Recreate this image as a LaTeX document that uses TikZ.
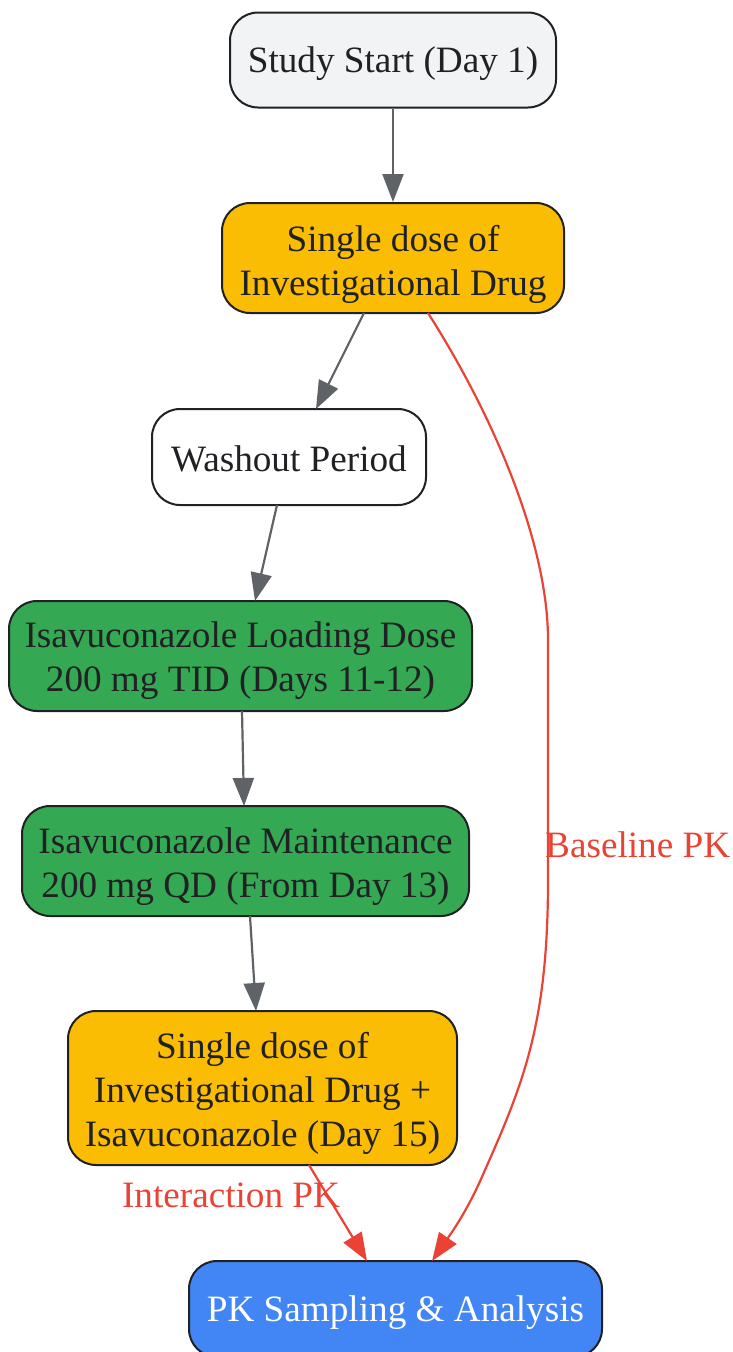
\documentclass[tikz,border=0pt]{standalone}
\usepackage{fontspec}
\setmainfont{Liberation Serif}
\usetikzlibrary{arrows.meta}
\definecolor{ggray}{HTML}{F1F3F4}
\definecolor{gamber}{HTML}{FBBC04}
\definecolor{ggreen}{HTML}{34A853}
\definecolor{gblue}{HTML}{4285F4}
\definecolor{gred}{HTML}{EA4335}
\definecolor{gedge}{HTML}{5F6368}
\definecolor{gdark}{HTML}{202124}
\tikzset{
  box/.style={draw=gdark, line width=2pt, rounded corners=28pt, inner sep=0pt},
  btext/.style={align=center, inner sep=0pt, text=gdark, font=\fontsize{37.2}{44}\selectfont},
  flow/.style={draw=gedge, line width=2.2pt, -{Triangle[length=28pt,width=21pt]}},
  redflow/.style={draw=gred, line width=2.2pt, -{Triangle[length=28pt,width=21pt]}},
  elabel/.style={text=gred, font=\fontsize{37.2}{44}\selectfont, inner sep=0pt},
}
\begin{document}
\begin{tikzpicture}[x=1pt,y=-1pt]
\useasboundingbox (0,0) rectangle (733,1352);
\node[box, fill=ggray, minimum width=326pt, minimum height=95pt] (start) at (393,60) {};
\node[box, fill=gamber, minimum width=342pt, minimum height=110pt] (single) at (393,258) {};
\node[box, fill=white, minimum width=274pt, minimum height=96pt] (wash) at (289,457) {};
\node[box, fill=ggreen, minimum width=463pt, minimum height=110pt] (load) at (240.5,656) {};
\node[box, fill=ggreen, minimum width=447pt, minimum height=110pt] (maint) at (245.5,861) {};
\node[box, fill=gamber, minimum width=389pt, minimum height=154pt] (combo) at (262.5,1088) {};
\node[box, fill=gblue, minimum width=413pt, minimum height=96pt] (pk) at (395.5,1309) {};

\node[btext] (startt) at (393,64) {Study Start (Day 1)};
\node[btext] (singlet) at (393,264) {Single dose of\\Investigational Drug};
\node[btext] (washt) at (289,459) {Washout Period};
\node[btext] (loadt) at (240.5,661) {Isavuconazole Loading Dose\\200 mg TID (Days 11-12)};
\node[btext] (maintt) at (245.5,867) {Isavuconazole Maintenance\\200 mg QD (From Day 13)};
\node[btext] (combot) at (262.5,1093) {Single dose of\\Investigational Drug +\\Isavuconazole (Day 15)};
\node[btext, text=white] (pkt) at (395.5,1313) {PK Sampling \& Analysis};

\coordinate (s2a) at (364,313);
\coordinate (w1) at (316,409);
\coordinate (w2) at (277,505);
\coordinate (l1) at (255,601);
\coordinate (l2) at (242,711);
\coordinate (m1) at (244,806);
\coordinate (m2) at (250,916);
\coordinate (c1) at (256,1011);
\coordinate (c2) at (309,1165);
\coordinate (p1) at (367,1261);
\coordinate (s2b) at (428,313);
\coordinate (p2) at (432,1261);

\draw[flow] (start) -- (single);
\draw[flow] (s2a) -- (w1);
\draw[flow] (w2) -- (l1);
\draw[flow] (l2) -- (m1);
\draw[flow] (m2) -- (c1);
\draw[redflow] (c2) -- (p1);
\draw[redflow] (s2b) .. controls (490,410) and (548,540) .. (548,640)
  -- (548,880) .. controls (548,1020) and (525,1080) .. (485,1170)
  .. controls (468,1210) and (452,1232) .. (p2);
\node[elabel, anchor=west] (lbase) at (545,845) {Baseline PK};
\node[elabel] (linter) at (231,1195) {Interaction PK};
\end{tikzpicture}
\end{document}
